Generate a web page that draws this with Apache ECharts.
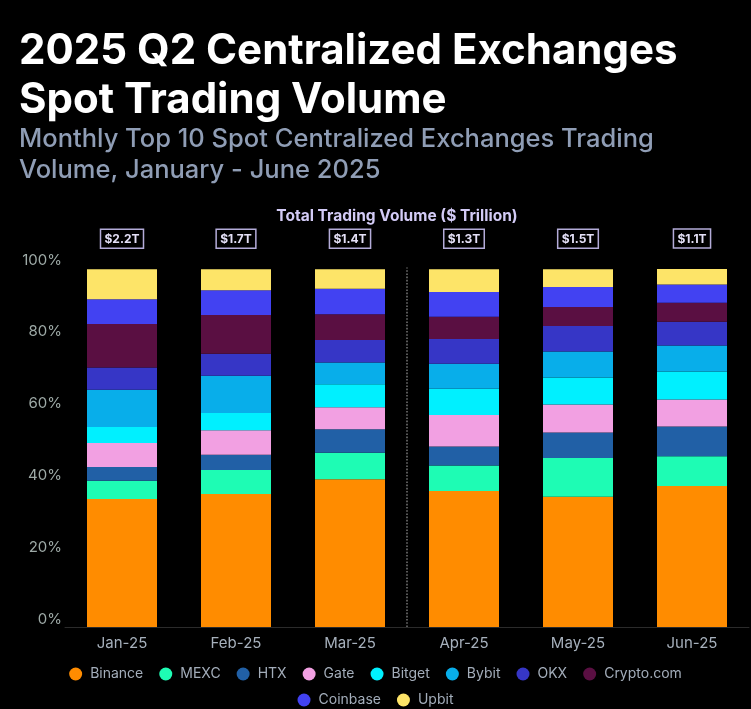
<!DOCTYPE html>
<html>
<head>
<meta charset="utf-8">
<script src="https://cdn.jsdelivr.net/npm/echarts@6/dist/echarts.min.js"></script>
<style>
html,body{margin:0;padding:0;background:#000;}
#chart{width:751px;height:709px;}
</style>
</head>
<body>
<div id="chart"></div>
<script>
const months = ['Jan-25','Feb-25','Mar-25','Apr-25','May-25','Jun-25'];
const totals = ['$2.2T','$1.7T','$1.4T','$1.3T','$1.5T','$1.1T'];
const yTicks = [0, 20, 40, 60, 80, 100];
const quarterSplit = 3; // Q1 | Q2 divider after the third month

const binance  = [35.6, 37.0, 41.1, 37.8, 36.2, 39.2];
const mexc     = [5.1, 6.7, 7.4, 7.1, 10.8, 8.3];
const htx      = [3.8, 4.2, 6.5, 5.3, 7.1, 8.3];
const gate     = [6.7, 6.8, 6.1, 8.8, 7.8, 7.5];
const bitget   = [4.4, 4.8, 6.4, 7.3, 7.5, 7.8];
const bybit    = [10.4, 10.4, 6.1, 6.9, 7.2, 7.2];
const okx      = [6.2, 6.1, 6.2, 6.9, 7.1, 6.6];
const cryptocom= [12.1, 10.8, 7.2, 6.2, 5.3, 5.3];
const coinbase = [6.9, 6.9, 7.1, 6.9, 5.6, 5.1];
const upbit    = [8.3, 5.8, 5.4, 6.3, 4.9, 4.3];

const seriesDefs = [
  {name:'Binance', data:binance, color:'#ff8c00'},
  {name:'MEXC', data:mexc, color:'#1efcb4'},
  {name:'HTX', data:htx, color:'#2160a6'},
  {name:'Gate', data:gate, color:'#f2a0e2'},
  {name:'Bitget', data:bitget, color:'#00f0ff'},
  {name:'Bybit', data:bybit, color:'#08aeea'},
  {name:'OKX', data:okx, color:'#3636c6'},
  {name:'Crypto.com', data:cryptocom, color:'#5a0f42'},
  {name:'Coinbase', data:coinbase, color:'#4242f2'},
  {name:'Upbit', data:upbit, color:'#fde468'}
];

const FONT = 'Inter, "Noto Sans", sans-serif';

const series = seriesDefs.map((s, i) => {
  const o = {
    name: s.name,
    type: 'bar',
    stack: 'total',
    barWidth: 70,
    data: s.data,
    itemStyle: {color: s.color},
    emphasis: {disabled: true}
  };
  if (i === seriesDefs.length - 1) {
    o.label = {
      show: true,
      position: 'top',
      distance: 21,
      formatter: p => totals[p.dataIndex],
      color: '#e4e0f7',
      fontFamily: FONT,
      fontWeight: 'bold',
      fontSize: 12,
      borderColor: '#b4acd9',
      borderWidth: 1.5,
      padding: [4, 4, 3, 4]
    };
  }
  return o;
});

series.push({
  name: 'divider',
  type: 'line',
  xAxisIndex: 1,
  yAxisIndex: 0,
  data: [],
  silent: true,
  markLine: {
    silent: true,
    symbol: 'none',
    label: {show: false},
    lineStyle: {color: '#6f6f6f', type: 'dotted', width: 1.6},
    data: [{xAxis: quarterSplit}]
  }
});

const chart = echarts.init(document.getElementById('chart'), null, {renderer: 'canvas'});
chart.setOption({
  backgroundColor: '#000',
  animation: false,
  title: [
    {
      text: '2025 Q2 Centralized Exchanges\nSpot Trading Volume',
      left: 14, top: 22,
      textStyle: {color: '#ffffff', fontFamily: FONT, fontWeight: 'bold', fontSize: 42, lineHeight: 49}
    },
    {
      text: 'Monthly Top 10 Spot Centralized Exchanges Trading\nVolume, January - June 2025',
      left: 14, top: 119,
      textStyle: {color: '#8f9db5', fontFamily: FONT, fontWeight: 500, fontSize: 25.5, lineHeight: 31}
    },
    {
      text: 'Total Trading Volume ($ Trillion)',
      left: 392, top: 203, textAlign: 'center',
      textStyle: {color: '#d3cbf6', fontFamily: FONT, fontWeight: 'bold', fontSize: 15.5}
    }
  ],
  legend: [
    {
      data: ['Binance','MEXC','HTX','Gate','Bitget','Bybit','OKX','Crypto.com'],
      left: 'center', top: 662,
      icon: 'circle', itemWidth: 13, itemHeight: 13, itemGap: 16,
      textStyle: {color: '#a3adba', fontFamily: FONT, fontSize: 14, padding: [0,0,0,3]}
    },
    {
      data: ['Coinbase','Upbit'],
      left: 'center', top: 688,
      icon: 'circle', itemWidth: 13, itemHeight: 13, itemGap: 16,
      textStyle: {color: '#a3adba', fontFamily: FONT, fontSize: 14, padding: [0,0,0,3]}
    }
  ],
  grid: {left: 65, right: 2, top: 267.5, bottom: 82, containLabel: false},
  xAxis: [
    {
      type: 'category',
      data: months,
      axisLine: {show: true, lineStyle: {color: '#2b2b2b', width: 1}},
      axisTick: {show: false},
      axisLabel: {color: '#a6b0bc', fontFamily: FONT, fontSize: 15, margin: 9},
      splitLine: {show: false}
    },
    {
      type: 'value',
      min: 0, max: months.length,
      show: false,
      splitLine: {show: false}
    }
  ],
  yAxis: {
    type: 'value',
    min: yTicks[0], max: yTicks[yTicks.length - 1], interval: 20,
    axisLine: {show: false},
    axisTick: {show: false},
    splitLine: {show: false},
    axisLabel: {
      color: '#9eaaa7', fontFamily: FONT, fontSize: 15, margin: 3,
      verticalAlign: 'bottom',
      formatter: v => v + '%'
    }
  },
  series: series
});
</script>
</body>
</html>
